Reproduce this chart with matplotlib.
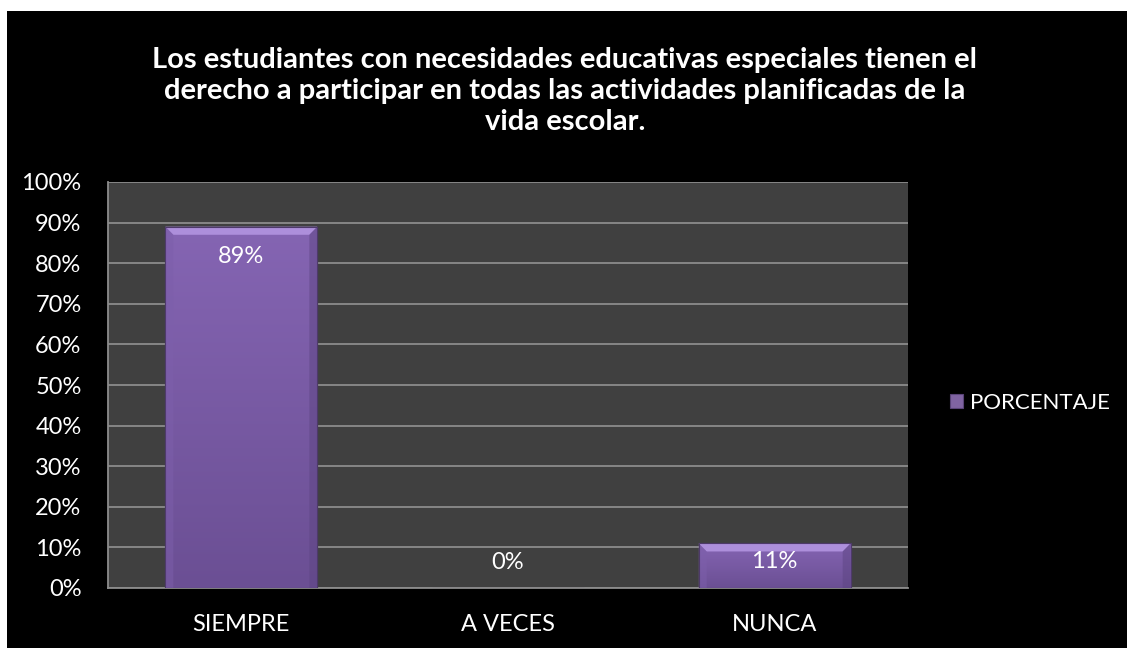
import numpy as np
import matplotlib.pyplot as plt
from matplotlib.colors import LinearSegmentedColormap
from matplotlib.patches import Rectangle, Polygon

categories = ['SIEMPRE', 'A VECES', 'NUNCA']
values = [89, 0, 11]
labels = ['89%', '0%', '11%']
series_name = 'PORCENTAJE'
title = ('Los estudiantes con necesidades educativas especiales tienen el\n'
         'derecho a participar en todas las actividades planificadas de la\n'
         'vida escolar.')

plt.rcParams['font.family'] = ['Lato', 'DejaVu Sans']

W, H = 1127, 648
fig = plt.figure(figsize=(W / 100, H / 100), dpi=100, facecolor='white')
fig.patches.append(Rectangle((7 / W, 0), 1, 1 - 11 / H, transform=fig.transFigure,
                             facecolor='black', edgecolor='none', zorder=-10))

ax = fig.add_axes([108 / W, 1 - 588 / H, 800 / W, 406 / H])
ax.set_facecolor('#404040')
x = np.arange(len(categories))
bars = ax.bar(x, values, width=0.57, color='#8064a2', edgecolor='#5a4478',
              linewidth=0.8, zorder=3, label=series_name)

# gradient fill + bevel on top of each bar
grad = np.linspace(0, 1, 256).reshape(-1, 1)
cmap = LinearSegmentedColormap.from_list('p', ['#6b4f94', '#8565b3'])
for b in bars:
    bx, bw, bh = b.get_x(), b.get_width(), b.get_height()
    if bh <= 0:
        continue
    im = ax.imshow(grad, extent=[bx, bx + bw, 0, bh], origin='lower', aspect='auto',
                   cmap=cmap, zorder=3.5)
    im.set_clip_path(b)
    dy = 2.0
    dx = 0.03
    ax.add_patch(Polygon([(bx, bh), (bx + bw, bh), (bx + bw - dx, bh - dy), (bx + dx, bh - dy)],
                         closed=True, facecolor='#ad8fdb', edgecolor='none', zorder=4))
    ax.add_patch(Polygon([(bx, bh), (bx + dx, bh - dy), (bx + dx, 0), (bx, 0)],
                         closed=True, facecolor='#7d5fab', edgecolor='none', alpha=0.5, zorder=4))
    ax.add_patch(Polygon([(bx + bw, bh), (bx + bw - dx, bh - dy), (bx + bw - dx, 0), (bx + bw, 0)],
                         closed=True, facecolor='#5d4583', edgecolor='none', alpha=0.5, zorder=4))
    ax.add_patch(Rectangle((bx, 0), bw, bh, facecolor='none', edgecolor='#4e3a6a',
                           linewidth=0.8, zorder=4.5))

for xi, v, lab in zip(x, values, labels):
    ypos = v - 7.4 if v > 20 else v / 2 + 1 if v > 0 else 6.4
    ax.text(xi, ypos, lab, ha='center', va='center', color='white', fontsize=17, zorder=6)

ax.set_xlim(-0.5, 2.5)
ax.set_ylim(0, 100)
ax.set_yticks(np.arange(0, 101, 10))
ax.set_yticklabels([f'{t}%' for t in range(0, 101, 10)])
ax.set_xticks(x)
ax.set_xticklabels(categories)
ax.tick_params(colors='white', labelsize=17, length=0)
ax.tick_params(axis='y', pad=19)
ax.tick_params(axis='x', pad=19)
ax.grid(axis='y', color='#8c8c8c', linewidth=1.3, zorder=1)
ax.set_axisbelow(True)
for s in ['top', 'right']:
    ax.spines[s].set_visible(False)
for s in ['left', 'bottom']:
    ax.spines[s].set_color('#8c8c8c')
    ax.spines[s].set_linewidth(1.3)

fig.legend(handles=[bars], labels=[series_name], loc='center left',
           bbox_to_anchor=(950 / W, 1 - 403 / H), frameon=False,
           fontsize=16, labelcolor='white', handlelength=0.6, handleheight=0.6,
           handletextpad=0.3, borderpad=0, borderaxespad=0)

fig.text(565 / W, 1 - 91 / H, title, ha='center', va='center', color='white',
         fontsize=21, fontweight='bold', linespacing=1.26)

fig.savefig('out.png', dpi=100, facecolor=fig.get_facecolor())
